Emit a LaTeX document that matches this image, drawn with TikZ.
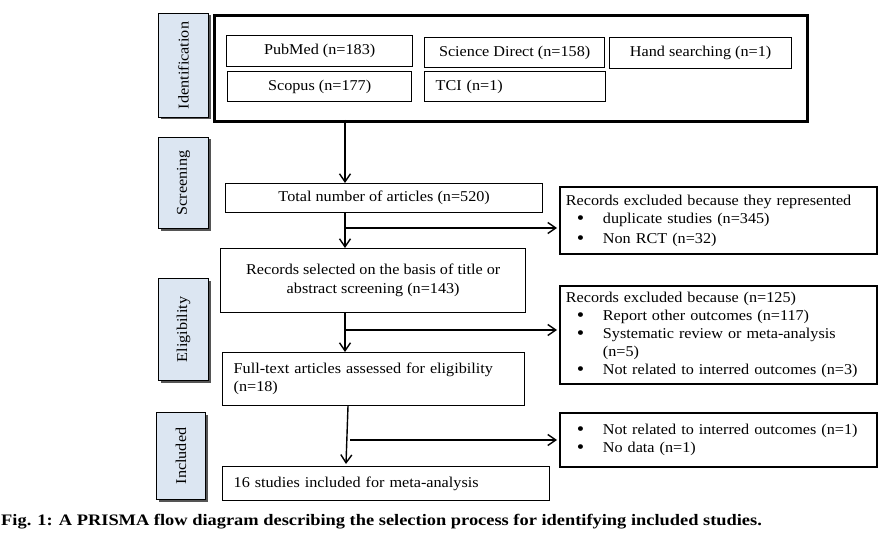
\documentclass[tikz,border=0pt]{standalone}
\usepackage{fontspec}
\setmainfont{Liberation Serif}[FakeStretch=1.08]
\newfontfamily\capfont{Liberation Serif}[FakeStretch=1.15]
\usetikzlibrary{arrows.meta,shadows}
\definecolor{labfill}{HTML}{DCE6F2}
\definecolor{shadowc}{HTML}{555555}
\newcommand{\bulitem}{\makebox[37pt][l]{\hspace{11pt}\smash{\raisebox{-1.3pt}{\scalebox{1.3}{\textbullet}}}}}
\begin{document}
\begin{tikzpicture}[x=1pt,y=-1pt,
  font=\fontsize{15}{18}\selectfont,
  box/.style={draw, line width=1.3pt, inner sep=0pt, anchor=north west},
  exbox/.style={draw, line width=1.8pt, anchor=north west, inner xsep=6pt, inner ysep=0pt, align=left, text width=305pt},
  lftbox/.style={draw, line width=1.3pt, anchor=north west, inner xsep=11pt, inner ysep=0pt, align=left},
  labbox/.style={draw=black, line width=1pt, fill=labfill, anchor=north west, minimum width=50pt, inner sep=0pt,
    drop shadow={shadow xshift=2pt, shadow yshift=-2pt, fill=shadowc, opacity=1}},
  arr/.style={line width=1.4pt, -{Straight Barb[length=8pt,width=11pt,line width=1.4pt]}},
]
\useasboundingbox (0,0) rectangle (893,540);

% stage labels
\node[labbox, minimum height=104pt] (idl) at (158,13) {};
\node[rotate=90] at (idl.center) {Identification};
\node[labbox, minimum height=91pt] (scl) at (158,137) {};
\node[rotate=90] at (scl.center) {Screening};
\node[labbox, minimum height=102pt] (ell) at (158,278) {};
\node[rotate=90] at (ell.center) {Eligibility};
\node[labbox, minimum height=87pt, minimum width=49pt] (inl) at (156,412) {};
\node[rotate=90] at (inl.center) {Included};

% identification
\node[box, line width=3pt, minimum width=593pt, minimum height=106pt] (big) at (213,14) {};
\node[box, minimum width=186pt, minimum height=31pt] (pub) at (226,35) {PubMed (n=183)};
\node[box, minimum width=180pt, minimum height=30pt] (sd) at (424,37) {Science Direct (n=158)};
\node[box, minimum width=182pt, minimum height=31pt] (hand) at (609,37) {Hand searching (n=1)};
\node[box, minimum width=184pt, minimum height=30pt] (sco) at (227,71) {Scopus (n=177)};
\node[lftbox, text width=159pt, minimum height=30pt] (tci) at (424,71) {TCI (n=1)};

% screening
\node[box, minimum width=317pt, minimum height=29pt] (total) at (225,183) {Total number of articles (n=520)};
\node[exbox, minimum height=67pt] (ex1) at (559,186) {Records excluded because they represented\\
  \bulitem duplicate studies (n=345)\\[2pt]
  \bulitem Non RCT (n=32)};
\node[box, minimum width=305pt, minimum height=64pt, align=center] (sel) at (220,248) {Records selected on the basis of title or\\[1pt] abstract screening (n=143)};

% eligibility
\node[exbox, minimum height=98pt] (ex2) at (559,285) {Records excluded because (n=125)\\
  \bulitem Report other outcomes (n=117)\\
  \bulitem Systematic review or meta-analysis\\
  \makebox[37pt][l]{}(n=5)\\
  \bulitem Not related to interred outcomes (n=3)};
\node[lftbox, text width=280pt, minimum height=53pt] (full) at (222,352) {Full-text articles assessed for eligibility\\(n=18)};

% included
\node[exbox, minimum height=54pt] (ex3) at (559,412) {\bulitem Not related to interred outcomes (n=1)\\
  \bulitem No data (n=1)};
\node[lftbox, text width=305pt, minimum height=34pt] (stud) at (222,466) {16 studies included for meta-analysis};

% connectors
\coordinate (c1) at (345,120);
\coordinate (c2) at (345,228);
\coordinate (c3) at (345,330);
\coordinate (c4) at (348,406);
\coordinate (c4b) at (346,464);
\coordinate (c5) at (350,440);
\draw[arr] (c1) -- (c1 |- total.north);
\draw[arr] (total.south -| c1) -- (sel.north -| c1);
\draw[arr, shorten >=2pt] (c2) -- (c2 -| ex1.west);
\draw[arr] (sel.south -| c1) -- (full.north -| c1);
\draw[arr, shorten >=2pt] (c3) -- (c3 -| ex2.west);
\draw[arr] (c4) -- (c4b);
\draw[arr, shorten >=2pt] (c5) -- (c5 -| ex3.west);

% caption
\node[anchor=west, inner sep=0pt, font=\capfont\bfseries\fontsize{16}{18}\selectfont] (cap) at (1,522) {Fig. 1: A PRISMA flow diagram describing the selection process for identifying included studies.};
\end{tikzpicture}
\end{document}
